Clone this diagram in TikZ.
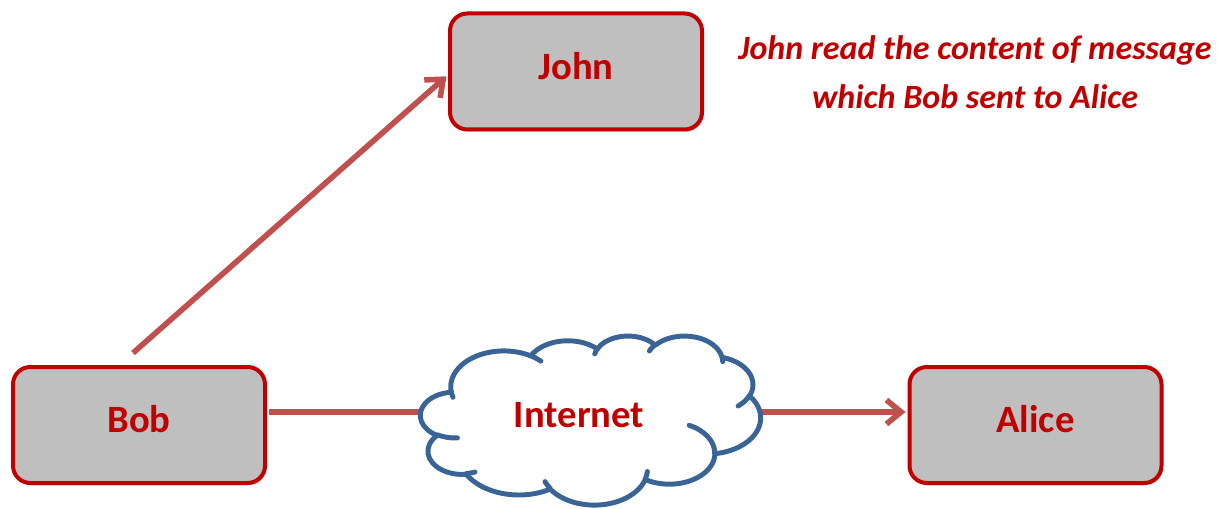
\documentclass[tikz,border=0pt]{standalone}
\usepackage{fontspec}
\setmainfont{Carlito}
\usetikzlibrary{arrows.meta,shadows}

\definecolor{boxred}{HTML}{C00000}
\definecolor{boxgray}{HTML}{BFBFBF}
\definecolor{linkred}{HTML}{C0504D}
\definecolor{cloudblue}{HTML}{3A6495}

% size of one cloud unit (the cloud outline is given on a 43.2 x 43.2 grid)
\def\cloudux{5.903pt}
\def\clouduy{2.934pt}

% one elliptical arc of the cloud outline: x radius, y radius,
% start angle and sweep, angles measured on screen with y pointing down
\newcommand\cloudseg[4]{%
  \pgfextra{%
    \pgfmathsetmacro\csA{atan2((#1)*sin(#3),(#2)*cos(#3))}%
    \pgfmathsetmacro\csB{atan2((#1)*sin((#3)+(#4)),(#2)*cos((#3)+(#4)))}%
    \pgfmathsetmacro\csD{\csB-\csA}%
    \ifdim #4pt>0pt
      \ifdim \csD pt<0pt \pgfmathsetmacro\csD{\csD+360}\fi
    \else
      \ifdim \csD pt>0pt \pgfmathsetmacro\csD{\csD-360}\fi
    \fi
    \pgfmathsetmacro\csS{0-(\csA)}%
    \pgfmathsetmacro\csW{0-(\csD)}%
    \global\let\cloudstart\csS
    \global\let\cloudsweep\csW}%
  arc[start angle=\cloudstart, delta angle=\cloudsweep,
      x radius={#1*\cloudux}, y radius={#2*\clouduy}]}

\tikzset{
  lbl/.style={font=\bfseries\fontsize{29}{34}\selectfont, text=boxred,
    text height=20pt, text depth=8.4pt},
  party/.style={lbl, draw=boxred, line width=3pt, fill=boxgray,
    rounded corners=13pt, minimum width=189pt, minimum height=87pt,
    drop shadow={shadow xshift=1.2pt, shadow yshift=-1.8pt, opacity=0.3}},
  link/.style={draw=linkred, line width=4.2pt},
  linktip/.style={-{Straight Barb[length=11pt, width=18pt]}},
  cloudline/.style={draw=cloudblue, line width=3.7pt, line join=round},
  note/.style={font=\bfseries\itshape\fontsize{25.5}{36.75}\selectfont,
    text=boxred, align=center}
}

\begin{document}
\begin{tikzpicture}[x=0.75pt, y=-0.75pt]
  \useasboundingbox (0,0) rectangle (1223,509);

  % the three parties
  \node[party] (bob)   at (139,425)   {Bob};
  \node[party] (john)  at (576,71.5)  {John};
  \node[party] (alice) at (1035.5,425) {Alice};

  \node[note] (caption) at (975,72)
    {John read the content of message\\which Bob sent to Alice};

  % where the message line enters and leaves the cloud
  \coordinate (cloudin)  at (445,412);
  \coordinate (cloudout) at (740,412);

  % connectors
  \draw[link, linktip, shorten >=1.5pt]
    ([xshift=-4.5pt,yshift=9pt]bob.north) -- ([yshift=-2.6pt]john.west);
  \draw[link, shorten <=1.5pt] ([yshift=9.75pt]bob.east) -- (cloudin);
  \draw[link, linktip, shorten >=1.5pt]
    (cloudout) -- ([yshift=9.75pt]alice.west);

  % the Internet cloud
  \begin{scope}[shift={(420.5,335.5)}, x=\cloudux, y=-\clouduy]
    \draw[cloudline, fill=white] (3.9,14.37)
      \cloudseg{6.753}{9.190}{-190.4875}{123.7805}
      \cloudseg{5.333}{7.267}{-144.1024}{89.9452}
      \cloudseg{4.365}{5.945}{-145.8079}{99.7230}
      \cloudseg{4.857}{6.595}{-130.9861}{117.2417}
      \cloudseg{5.333}{7.273}{-78.7089}{109.0269}
      \cloudseg{6.775}{9.220}{-46.2673}{130.2690}
      \cloudseg{5.785}{7.867}{0.6250}{114.0333}
      \cloudseg{6.752}{9.215}{22.4516}{115.1726}
      \cloudseg{7.720}{10.543}{66.2426}{75.7110}
      \cloudseg{4.360}{5.918}{-274.9421}{146.7356}
      \cloudseg{4.345}{5.945}{-246.8285}{152.5189}
      -- cycle;
    \draw[cloudline, line cap=round]
      (4.693,26.177)  \cloudseg{4.345}{5.945}{86.7420}{26.4295}
      (6.928,34.899)  \cloudseg{4.360}{5.918}{73.6105}{11.4475}
      (16.478,39.090) \cloudseg{6.752}{9.215}{137.6242}{14.0811}
      (28.827,34.751) \cloudseg{6.752}{9.215}{6.4533}{15.9984}
      (34.129,22.954) \cloudseg{5.785}{7.867}{-70.2924}{70.9174}
      (41.798,15.354) \cloudseg{5.333}{7.273}{30.3180}{27.7515}
      (38.324,5.426)  \cloudseg{4.857}{6.595}{-13.7443}{14.8589}
      (29.078,3.952)  \cloudseg{4.857}{6.595}{-149.1815}{18.1954}
      (22.141,4.720)  \cloudseg{4.365}{5.945}{-163.4943}{17.6864}
      (14.000,5.192)  \cloudseg{6.753}{9.190}{-66.7070}{12.3194}
      (4.127,15.789)  \cloudseg{6.753}{9.190}{157.6544}{11.8582};
  \end{scope}

  \node[lbl] (net) at (579,420) {Internet};
\end{tikzpicture}
\end{document}
